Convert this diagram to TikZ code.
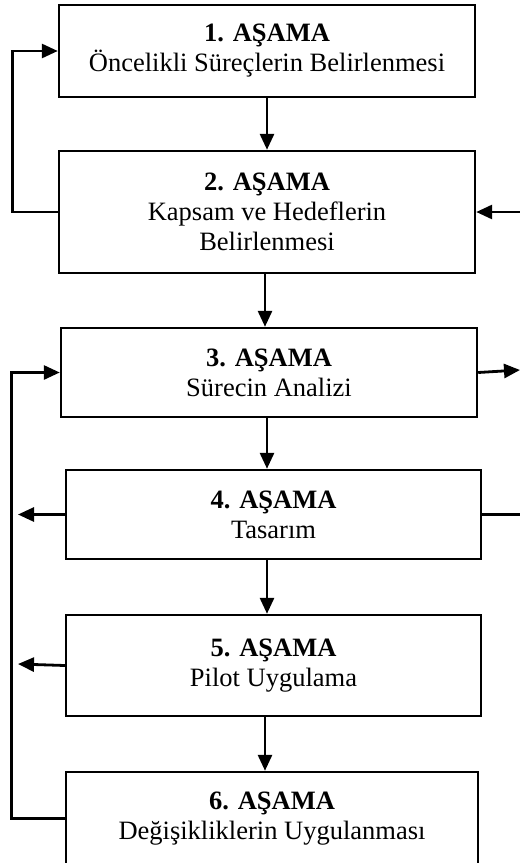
\documentclass[tikz,border=0pt]{standalone}
\usepackage{fontspec}
\setmainfont{Liberation Serif}
\usetikzlibrary{arrows.meta}
\begin{document}
\begin{tikzpicture}[x=1bp,y=-1bp,
  stage/.style={draw, line width=2.4bp, inner sep=0pt, align=center,
    font=\fontsize{26.5bp}{30bp}\selectfont},
  flow/.style={line width=2.8bp, -{Triangle[length=16bp,width=14bp]}},
  plain/.style={line width=2.8bp}]
\useasboundingbox (0,0) rectangle (520,863);
\clip (0,0) rectangle (520,863);

% stages
\node[stage, minimum width=416bp, minimum height=92bp] (s1) at (267,51)
  {\textbf{1. AŞAMA}\\Öncelikli Süreçlerin Belirlenmesi};
\node[stage, minimum width=416bp, minimum height=122bp] (s2) at (267,212)
  {\textbf{2. AŞAMA}\\Kapsam ve Hedeflerin\\Belirlenmesi};
\node[stage, minimum width=416bp, minimum height=89bp] (s3) at (269,372.5)
  {\textbf{3. AŞAMA}\\Sürecin Analizi};
\node[stage, minimum width=415bp, minimum height=89bp] (s4) at (273.5,514.5)
  {\textbf{4. AŞAMA}\\Tasarım};
\node[stage, minimum width=415bp, minimum height=101bp] (s5) at (273.5,665.5)
  {\textbf{5. AŞAMA}\\Pilot Uygulama};
\node[stage, minimum width=412bp, minimum height=93bp] (s6) at (272,818.5)
  {\textbf{6. AŞAMA}\\Değişikliklerin Uygulanması};

% free ends at the right and left margins
\coordinate (r2) at (520,212);
\coordinate (r3) at (520,370);
\coordinate (r4) at (520,514.5);
\coordinate (l4) at (18,514.5);
\coordinate (l5) at (18,664);

% main sequence
\draw[flow] (s1.south) -- (s2.north);
\draw[flow] ([xshift=-2bp]s2.south) -- ([xshift=-2bp]s2.south |- s3.north);
\draw[flow] ([xshift=-2bp]s3.south) -- ([xshift=-2bp]s3.south |- s4.north);
\draw[flow] ([xshift=-6.5bp]s4.south) -- ([xshift=-6.5bp]s4.south |- s5.north);
\draw[flow] ([xshift=-8.5bp]s5.south) -- ([xshift=-8.5bp]s5.south |- s6.north);

% feedback loops
\draw[flow] (s2.west) -- ++(-45,0) |- (s1.west);
\draw[flow] (s6.west) -- ++(-53,0) |- (s3.west);

% side connections
\draw[flow] (r2) -- (s2.east);
\draw[flow] (s3.east) -- (r3);
\draw[plain] (s4.east) -- (r4);
\draw[flow] (s4.west) -- (l4);
\draw[flow] (s5.west) -- (l5);
\end{tikzpicture}
\end{document}
